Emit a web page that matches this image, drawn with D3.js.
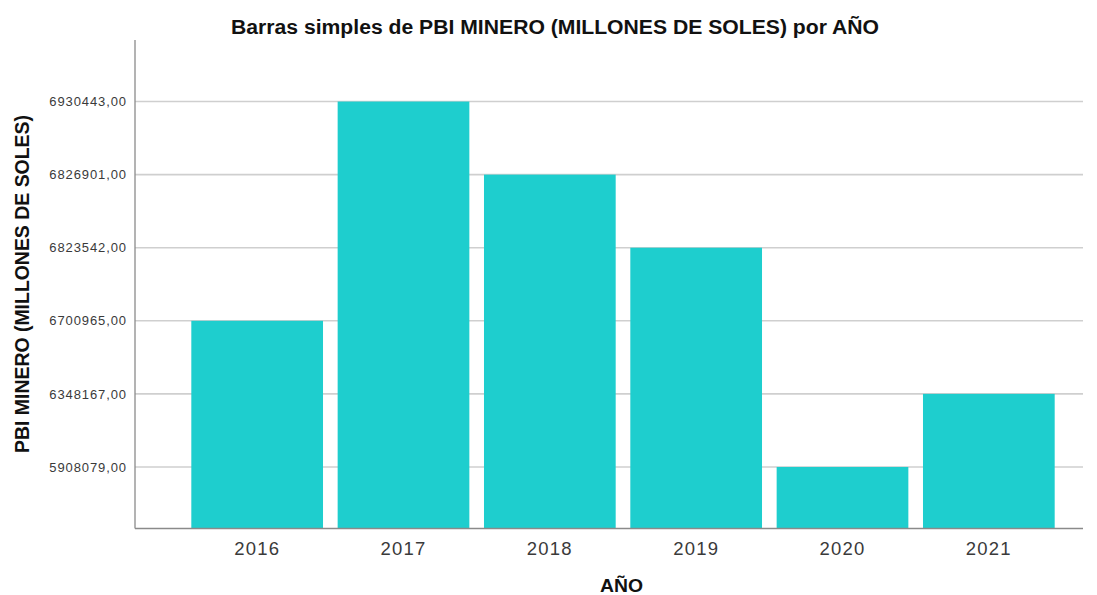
<!DOCTYPE html>
<html>
<head>
<meta charset="utf-8">
<script src="https://cdn.jsdelivr.net/npm/d3@7"></script>
<style>
  html, body { margin: 0; padding: 0; background: #ffffff; }
  svg { display: block; font-family: "Liberation Sans", Arial, sans-serif; }
</style>
</head>
<body>
<svg id="chart" width="1097" height="595"></svg>
<script>
// Data
const years = ["2016", "2017", "2018", "2019", "2020", "2021"];
const pbiMinero = [6700965, 6930443, 6826901, 6823542, 5908079, 6348167];
// Y axis in SPSS is categorical: each distinct value is one ordered category
const yTickLabels = ["5908079,00", "6348167,00", "6700965,00", "6823542,00", "6826901,00", "6930443,00"];
const yTickValues = [5908079, 6348167, 6700965, 6823542, 6826901, 6930443];

const title = "Barras simples de PBI MINERO (MILLONES DE SOLES) por AÑO";
const xTitle = "AÑO";
const yTitle = "PBI MINERO (MILLONES DE SOLES)";

(function () {
const svg = d3.select("#chart");
const pLeft = 135, pRight = 1083, pTop = 40, pBottom = 528.5;

const x = d3.scaleBand().domain(years).range([184, 1062]).paddingInner(0.1).paddingOuter(0.05);
const y = d3.scalePoint().domain(yTickValues).range([pBottom, pTop]).padding(0.842);

const fmt = d => yTickLabels[yTickValues.indexOf(d)];

// gridlines
svg.append("g").selectAll("line").data(yTickValues).join("line")
  .attr("x1", pLeft).attr("x2", pRight)
  .attr("y1", d => y(d)).attr("y2", d => y(d))
  .attr("stroke", "#cfcfcf").attr("stroke-width", 1.6);

// bars
svg.append("g").selectAll("rect").data(years).join("rect")
  .attr("x", d => x(d))
  .attr("width", x.bandwidth())
  .attr("y", (d, i) => y(pbiMinero[i]))
  .attr("height", (d, i) => pBottom - y(pbiMinero[i]))
  .attr("fill", "#1ecece");

// y axis
const yAxis = svg.append("g").attr("transform", `translate(${pLeft},0)`)
  .call(d3.axisLeft(y).tickFormat(fmt).tickSize(0).tickPadding(8));
yAxis.select(".domain").remove();
yAxis.selectAll("text").attr("font-size", 13).attr("fill", "#3a3a3a").style("letter-spacing", "0.9px")
  .attr("font-family", "Liberation Sans, Arial, sans-serif");
svg.append("line").attr("x1", pLeft).attr("x2", pLeft).attr("y1", pTop).attr("y2", pBottom)
  .attr("stroke", "#8a8a8a").attr("stroke-width", 1.3);

// x axis
const xAxis = svg.append("g").attr("transform", `translate(0,${pBottom})`)
  .call(d3.axisBottom(x).tickSize(0).tickPadding(13));
xAxis.select(".domain").remove();
xAxis.selectAll("text").attr("font-size", 18.5).attr("fill", "#3a3a3a").style("letter-spacing", "1.2px")
  .attr("font-family", "Liberation Sans, Arial, sans-serif");
svg.append("line").attr("x1", pLeft).attr("x2", pRight).attr("y1", pBottom).attr("y2", pBottom)
  .attr("stroke", "#8a8a8a").attr("stroke-width", 1.3);

// titles
svg.append("text").attr("x", 555).attr("y", 33.5).attr("text-anchor", "middle")
  .attr("font-size", 19.5).attr("font-weight", "bold").attr("fill", "#111")
  .attr("textLength", 648).attr("lengthAdjust", "spacingAndGlyphs").text(title);
svg.append("text").attr("x", 621.5).attr("y", 591.5).attr("text-anchor", "middle")
  .attr("font-size", 18).attr("font-weight", "bold").attr("fill", "#111")
  .attr("textLength", 43).attr("lengthAdjust", "spacingAndGlyphs").text(xTitle);
svg.append("text").attr("transform", "translate(28.5,284) rotate(-90)").attr("text-anchor", "middle")
  .attr("font-size", 19.5).attr("font-weight", "bold").attr("fill", "#111")
  .attr("textLength", 338).attr("lengthAdjust", "spacingAndGlyphs").text(yTitle);
})();
</script>
</body>
</html>
